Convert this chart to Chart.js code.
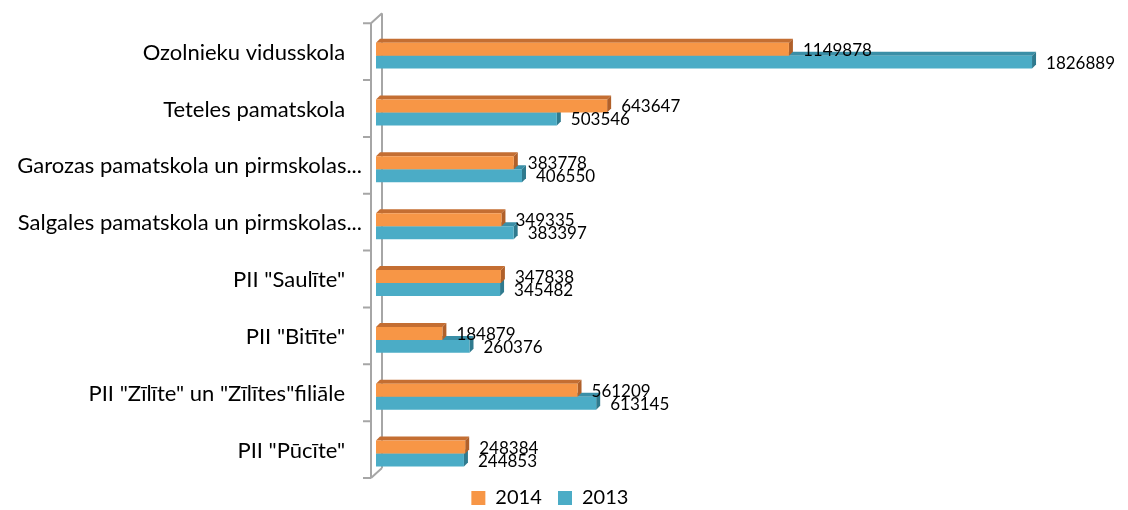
<!DOCTYPE html>
<html>
<head>
<meta charset="utf-8">
<script src="https://cdn.jsdelivr.net/npm/chart.js@4.4.1/dist/chart.umd.min.js"></script>
<style>
  html, body { margin: 0; padding: 0; background: #fff; }
</style>
</head>
<body>
<canvas id="chart" width="1128" height="510"></canvas>
<script>
// skolas (augšā -> lejā)
const categories = [
    'Ozolnieku vidusskola   ',
    'Teteles pamatskola   ',
    'Garozas pamatskola un pirmskolas...',
    'Salgales pamatskola un pirmskolas...',
    'PII "Saulīte"   ',
    'PII "Bitīte"   ',
    'PII "Zīlīte" un "Zīlītes"filiāle   ',
    'PII "Pūcīte"   '
];
const seriesNames = ['2014', '2013'];
const values2014 = [1149878, 643647, 383778, 349335, 347838, 184879, 561209, 248384];
const values2013 = [1826889, 503546, 406550, 383397, 345482, 260376, 613145, 244853];

const FONT = 'Lato, "Open Sans", sans-serif';

// krasas: priekša, augša, labā puse
const colors = [
    { front: '#F79646', top: '#C46E32', side: '#B0602A' },
    { front: '#4BACC6', top: '#3A8FA7', side: '#2F7A8E' }
];
const DEPTH = 4;

// 3D "siena" pie Y ass
const wallPlugin = {
    id: 'wall',
    beforeDatasetsDraw(chart) {
        const ctx = chart.ctx;
        const a = chart.chartArea;
        const fx = a.left - 5, bx = a.left + 6;
        const top = a.top - 4, bottom = a.bottom - 4;
        ctx.save();
        ctx.strokeStyle = '#A6A6A6';
        ctx.lineWidth = 2;
        ctx.beginPath();
        ctx.moveTo(fx, top); ctx.lineTo(fx, bottom);
        ctx.moveTo(bx, top - 10); ctx.lineTo(bx, bottom - 10);
        ctx.moveTo(fx, top); ctx.lineTo(bx, top - 10);
        ctx.moveTo(fx, bottom); ctx.lineTo(bx, bottom - 10);
        const n = categories.length;
        for (let i = 0; i <= n; i++) {
            const y = top + (bottom - top) * i / n;
            ctx.moveTo(fx - 8, y); ctx.lineTo(fx, y);
        }
        ctx.stroke();
        ctx.restore();
    }
};

// stabiņu augšējā un labā skaldne
const bar3dPlugin = {
    id: 'bar3d',
    beforeDatasetDraw(chart, args) {
        const ctx = chart.ctx;
        const c = colors[args.index];
        ctx.save();
        args.meta.data.forEach(bar => {
            const p = bar.getProps(['x', 'y', 'base', 'height'], true);
            const y0 = p.y - p.height / 2, y1 = p.y + p.height / 2;
            ctx.fillStyle = c.top;
            ctx.beginPath();
            ctx.moveTo(p.base, y0);
            ctx.lineTo(p.base + DEPTH, y0 - DEPTH);
            ctx.lineTo(p.x + DEPTH, y0 - DEPTH);
            ctx.lineTo(p.x, y0);
            ctx.closePath();
            ctx.fill();
            ctx.fillStyle = c.side;
            ctx.beginPath();
            ctx.moveTo(p.x, y0);
            ctx.lineTo(p.x + DEPTH, y0 - DEPTH);
            ctx.lineTo(p.x + DEPTH, y1 - DEPTH);
            ctx.lineTo(p.x, y1);
            ctx.closePath();
            ctx.fill();
        });
        ctx.restore();
    }
};

// vērtību etiķetes
const labelPlugin = {
    id: 'valueLabels',
    afterDatasetsDraw(chart) {
        const ctx = chart.ctx;
        ctx.save();
        ctx.font = '17px ' + FONT;
        ctx.fillStyle = '#000';
        ctx.textAlign = 'left';
        ctx.textBaseline = 'middle';
        chart.data.datasets.forEach((ds, i) => {
            chart.getDatasetMeta(i).data.forEach((bar, j) => {
                const p = bar.getProps(['x', 'y'], true);
                ctx.fillText(String(ds.data[j]), p.x + 14, p.y + 1);
            });
        });
        ctx.restore();
    }
};

new Chart(document.getElementById('chart'), {
    type: 'bar',
    data: {
        labels: categories,
        datasets: [
            { label: seriesNames[0], data: values2014, backgroundColor: colors[0].front },
            { label: seriesNames[1], data: values2013, backgroundColor: colors[1].front }
        ]
    },
    options: {
        indexAxis: 'y',
        responsive: false,
        animation: false,
        devicePixelRatio: 1,
        categoryPercentage: 0.456,
        barPercentage: 1,
        layout: { padding: { top: 25, right: 18, bottom: -8, left: 0 } },
        scales: {
            x: { display: false, min: 0, max: 2044000 },
            y: {
                grid: { display: false, drawTicks: false },
                border: { display: false },
                ticks: { color: '#000', font: { family: FONT, size: 22 }, padding: 14, labelOffset: -3 },
                afterFit(scale) { scale.width = 376; }
            }
        },
        plugins: {
            tooltip: { enabled: false },
            legend: {
                position: 'bottom',
                labels: {
                    color: '#000',
                    font: { family: FONT, size: 20 },
                    boxWidth: 14,
                    boxHeight: 14,
                    padding: 6,
                    generateLabels(chart) {
                        return Chart.defaults.plugins.legend.labels.generateLabels(chart)
                            .map(l => Object.assign(l, { text: l.text + '  ', lineWidth: 0 }));
                    }
                }
            }
        }
    },
    plugins: [wallPlugin, bar3dPlugin, labelPlugin]
});
</script>
</body>
</html>
